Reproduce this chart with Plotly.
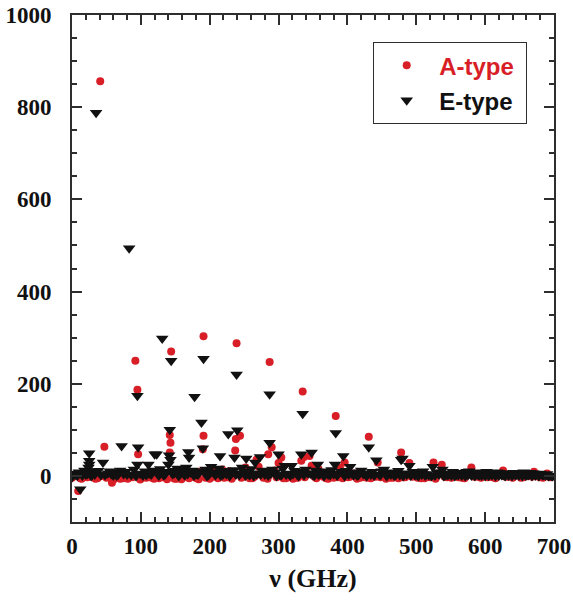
import plotly.graph_objects as go

# A-type transitions: frequency (GHz) and intensity
a_freq = [
    41, 47, 2, 9, 58, 92, 95, 96, 111,
    144, 142, 143, 142, 159,
    191, 191, 190, 203,
    239, 238, 237, 244,
    287, 290, 285, 304, 300, 268,
    335, 337, 333, 345, 348,
    383, 396, 389,
    431, 444, 478, 490, 525, 537, 580, 626, 671, 690,
    0, 5, 14, 19, 26, 31, 37, 53, 64, 70, 77, 85, 101, 106, 116, 122, 129, 135,
    149, 155, 166, 174, 181, 186, 197, 209, 215, 221, 228, 249, 255, 262, 274,
    281, 294, 311, 318, 324, 341, 352, 361, 369, 376, 401, 410, 418, 424, 437,
    452, 462, 470, 484, 498, 507, 516, 531, 545, 556, 566, 573, 589, 598, 611,
    619, 634, 645, 652, 663, 679, 697,
    12, 22, 34, 44, 50, 61, 67, 74, 81, 88, 99, 108, 113, 119, 126, 132, 138,
    147, 152, 162, 170, 178, 184, 194, 200, 206, 212, 218, 225, 232, 246, 252,
    258, 265, 271, 278, 284, 297, 307, 315, 321, 328, 338, 355, 358, 365, 372,
    380, 386, 393, 404, 414, 421, 428, 434, 441, 448, 456, 466, 474, 481, 494,
    502, 512, 520, 528, 541, 551, 561, 570, 584, 594, 604, 615, 630, 640, 656,
    668, 684, 694,
]
a_int = [
    856, 63, 0, -33, -15, 250, 187, 47, 0,
    270, 89, 72, 51, -7,
    303, 87, 58, 11,
    288, 80, 55, 87,
    247, 62, 47, 40, 28, 35,
    183, 41, 33, 43, 22,
    130, 29, 18,
    85, 29, 51, 28, 29, 24, 18, 12, 9, 5,
    -4, 2, -6, 3, -2, 5, -5, -3, 1, -6, 4, -2, -5, 3, -4, 6, -3, 2,
    -6, 8, -2, 4, -5, 9, -3, 5, 7, -4, 10, -2, 6, -5, 3,
    -3, 12, -5, 2, -4, 6, -2, 3, -5, 4, -3, 5, -4, 2, -2,
    6, -4, 3, -3, 4, -5, 2, 5, -3, 3, -4, 2, -2, 4, -3,
    2, -2, 3, -4, 2, -3, -2,
    -5, -3, -6, 0, -4, -7, -2, -5, -6, -3, -8, -4, -2, -6, -5, -3, -7,
    -4, -6, -2, -5, -3, -7, -4, -6, -2, -5, 14, -3, -6, -4, 18,
    -5, -2, 20, -4, -6, -3, -5, -2, -6, -4, -3, -5, 15, -2, -6,
    -4, -3, -5, -2, -6, -3, -4, -5, -2, -3, -6, -4, -5, -3, -2,
    -4, -5, -3, -6, -2, -4, -3, -5, -2, -4, -3, -5, -2, -4, -3,
    -2, -4, -3,
]

# E-type transitions: frequency (GHz) and intensity
e_freq = [
    35, 83, 131, 144, 178, 191, 239, 287, 335, 383, 431, 478, 490, 524, 538,
    573, 621, 665, 698,
    12, 25, 25, 25, 24, 26, 45, 72, 95, 96, 95, 111, 120, 123,
    142, 141, 143, 140, 169, 170, 188, 190, 215, 227, 240, 236,
    253, 266, 273, 287, 300, 309, 319, 333, 348, 357, 382, 394, 404,
    442, 453, 480,
    0, 3, 6, 10, 15, 18, 22, 30, 33, 38, 42, 52, 55, 60, 63, 67, 70, 75,
    78, 86, 90, 99, 103, 106, 115, 118, 124, 128, 133, 137, 146, 150, 153, 157,
    160, 163, 166, 172, 175, 181, 185, 194, 198, 202, 206, 210, 213, 219, 222,
    231, 235, 243, 247, 250, 256, 260, 270, 276, 280, 283, 291, 295, 302, 306,
    314, 323, 327, 331, 339, 343, 350, 354, 360, 364, 368, 372, 377, 387, 391,
    398, 407, 411, 416, 420, 425, 436, 446, 450, 460, 465, 470, 474, 483, 495,
    500, 505, 510, 515, 530, 543, 548, 553, 558, 563, 568, 577, 582, 587, 592,
    597, 602, 607, 612, 617, 626, 631, 636, 641, 646, 651, 656, 661, 670, 675,
    680, 685, 690, 694,
    8, 20, 28, 48, 57, 65, 80, 93, 108, 112, 126, 135, 148, 155, 164, 168,
    177, 183, 196, 200, 208, 216, 224, 229, 238, 245, 252, 258, 264, 268, 274,
    285, 289, 297, 304, 311, 317, 321, 329, 337, 346, 352, 358, 366, 375, 380,
    385, 396, 402, 409, 414, 423, 428, 434, 439, 448, 457, 463, 468, 476, 481,
    486, 492, 498, 503, 508, 513, 518, 522, 527, 533, 540, 546, 551, 556, 561,
    566, 571, 575, 580, 585, 590, 595, 600, 605, 610, 615, 620, 624, 629, 634,
    639, 644, 649, 654, 659, 663, 668, 673, 678, 683, 688, 692, 697,
]
e_int = [
    788, 494, 298, 250, 172, 254, 220, 177, 135, 93, 62, 35, 22, 20, 14,
    9, 7, 7, 0,
    -29, 49, 33, 25, 18, 10, 29, 65, 174, 62, 25, 25, 47, 47,
    100, 45, 35, 25, 52, 40, 116, 60, 43, 91, 99, 40,
    38, 29, 41, 72, 47, 22, 22, 47, 51, 25, 25, 43, 20,
    34, 14, 38,
    -3, 5, 2, 8, 1, 12, 4, 9, 3, 11, 2, 6, 10, 1, 7, 3, 12, 4,
    9, 2, 14, 5, 1, 10, 3, 12, 6, 15, 2, 9, 4, 11, 16, 7,
    13, 3, 18, 8, 12, 4, 10, 14, 2, 20, 8, 5, 16, 3, 11,
    7, 13, 2, 18, 9, 4, 15, 6, 12, 3, 10, 14, 8, 2, 16,
    5, 11, 3, 9, 14, 6, 2, 12, 4, 10, 7, 3, 13, 5, 9,
    11, 4, 8, 2, 12, 6, 9, 3, 10, 5, 8, 2, 11, 6, 9,
    3, 7, 10, 4, 8, 2, 6, 9, 3, 7, 5, 10, 4, 8, 2,
    6, 9, 3, 5, 8, 2, 6, 4, 7, 3, 5, 8, 2, 6, 4,
    5, 2, 4, 1,
    1, 3, 0, 2, 4, 1, 3, 0, 2, 5, 1, 3, 6, 0, 2, 4,
    1, 3, 0, 5, 2, 1, 4, 0, 3, 6, 1, 2, 0, 4, 3,
    1, 5, 0, 2, 3, 1, 4, 0, 2, 5, 1, 3, 0, 2, 4,
    1, 0, 3, 2, 1, 4, 0, 3, 1, 2, 0, 3, 1, 2, 0,
    3, 1, 2, 0, 3, 1, 2, 0, 1, 3, 0, 2, 1, 0, 2,
    1, 0, 2, 1, 0, 2, 1, 0, 1, 2, 0, 1, 2, 0, 1,
    0, 2, 1, 0, 1, 2, 0, 1, 0, 2, 1, 0, 0,
]

RED = "#d81e26"
INK = "#111111"
AXIS = "#2e2e2e"
SERIF = "Liberation Serif"


def tick_font():
    return dict(family=SERIF, size=23, color=INK, weight="bold")


fig = go.Figure()
fig.add_trace(go.Scatter(
    x=a_freq, y=a_int, mode="markers",
    name=f"<span style='color:{RED}'>A-type</span>\u00a0", legendgroup="a",
    marker=dict(symbol="circle", size=8, color=RED, line=dict(width=0)),
))
fig.add_trace(go.Scatter(
    x=e_freq, y=e_int, mode="markers", name="E-type\u00a0", legendgroup="e",
    marker=dict(symbol="triangle-down", size=11, color=INK, line=dict(width=0)),
))

fig.update_layout(
    width=573, height=604,
    margin=dict(l=72, r=19, t=15, b=82),
    paper_bgcolor="white", plot_bgcolor="white",
    xaxis=dict(
        range=[0, 700], tick0=0, dtick=100, automargin=False,
        showgrid=False, zeroline=False, showline=True, linewidth=2, linecolor=AXIS,
        mirror="ticks", ticks="inside", ticklen=10, tickwidth=2, tickcolor=AXIS,
        tickfont=tick_font(), ticklabelstandoff=2,
        minor=dict(dtick=20, ticks="inside", ticklen=5, tickwidth=1.5, tickcolor=AXIS),
        title=dict(text="ν (GHz)", font=dict(family=SERIF, size=26, color=INK, weight="bold"),
                   standoff=11),
    ),
    yaxis=dict(
        range=[-100, 1000], tick0=0, dtick=200, automargin=False,
        showgrid=False, zeroline=False, showline=True, linewidth=2, linecolor=AXIS,
        mirror="ticks", ticks="inside", ticklen=10, tickwidth=2, tickcolor=AXIS,
        tickfont=tick_font(), ticklabelstandoff=14,
        minor=dict(dtick=50, ticks="inside", ticklen=5, tickwidth=1.5, tickcolor=AXIS),
    ),
    legend=dict(
        x=0.6245, y=0.947, xanchor="left", yanchor="top",
        bordercolor=AXIS, borderwidth=1.2, bgcolor="white",
        font=dict(family="Liberation Sans", size=24, color=INK, weight="bold"),
        tracegroupgap=1, itemwidth=55,
    ),
    showlegend=True,
)

fig.write_html("out.html")
